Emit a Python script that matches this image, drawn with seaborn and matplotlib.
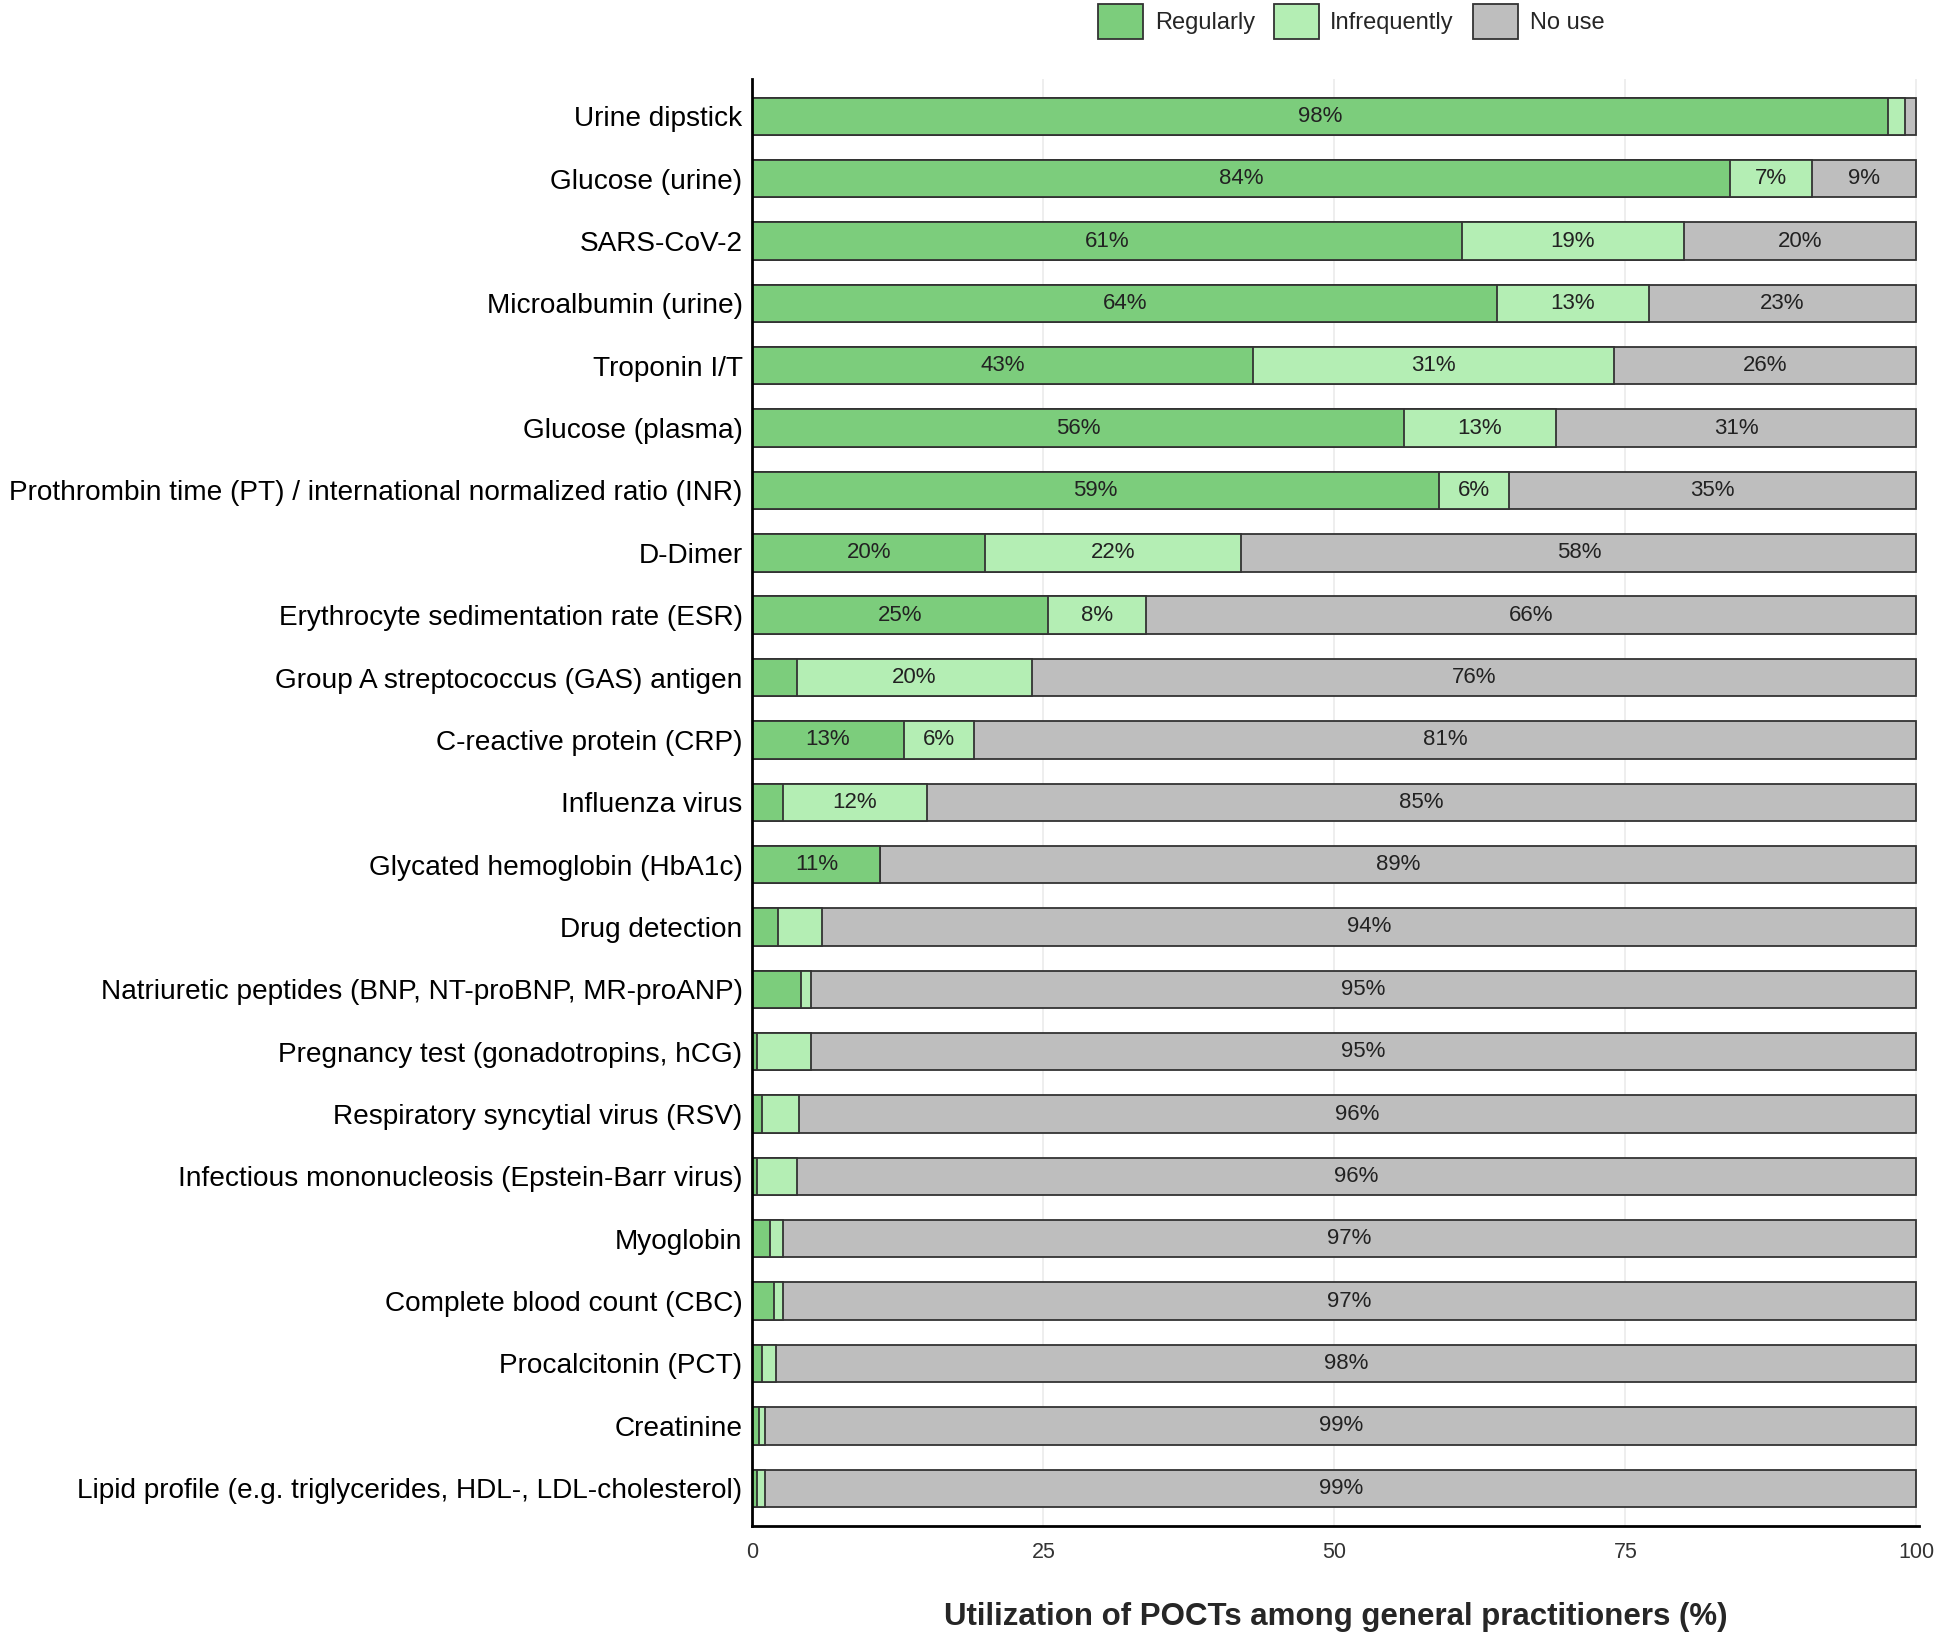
"""
Utilization of POCTs among general practitioners - stacked horizontal bars.
"""

import pandas as pd
import seaborn as sns
import matplotlib.pyplot as plt
from matplotlib.patches import Patch

# dados (%)
testes = [
    "Urine dipstick",
    "Glucose (urine)",
    "SARS-CoV-2",
    "Microalbumin (urine)",
    "Troponin I/T",
    "Glucose (plasma)",
    "Prothrombin time (PT) / international normalized ratio (INR)",
    "D-Dimer",
    "Erythrocyte sedimentation rate (ESR)",
    "Group A streptococcus (GAS) antigen",
    "C-reactive protein (CRP)",
    "Influenza virus",
    "Glycated hemoglobin (HbA1c)",
    "Drug detection",
    "Natriuretic peptides (BNP, NT-proBNP, MR-proANP)",
    "Pregnancy test (gonadotropins, hCG)",
    "Respiratory syncytial virus (RSV)",
    "Infectious mononucleosis (Epstein-Barr virus)",
    "Myoglobin",
    "Complete blood count (CBC)",
    "Procalcitonin (PCT)",
    "Creatinine",
    "Lipid profile (e.g. triglycerides, HDL-, LDL-cholesterol)",
]
regularly = [97.6, 84, 61, 64, 43, 56, 59, 20, 25.4, 3.8, 13, 2.6, 11,
             2.2, 4.2, 0.4, 0.8, 0.4, 1.5, 1.9, 0.8, 0.6, 0.4]
infrequently = [1.4, 7, 19, 13, 31, 13, 6, 22, 8.4, 20.2, 6, 12.4, 0,
                3.8, 0.8, 4.6, 3.2, 3.4, 1.1, 0.7, 1.2, 0.5, 0.7]
no_use = [1, 9, 20, 23, 26, 31, 35, 58, 66.2, 76, 81, 85, 89,
          94, 95, 95, 96, 96.2, 97.4, 97.4, 98, 98.9, 98.9]

categorias = ["Regularly", "Infrequently", "No use"]
cores = ["#7ccd7c", "#b4eeb4", "#bebebe"]
borda = "#333333"


def main():
    df = pd.DataFrame({"teste": testes, "Regularly": regularly,
                       "Infrequently": infrequently, "No use": no_use})
    df["cum_reg"] = df["Regularly"]
    df["cum_inf"] = df["Regularly"] + df["Infrequently"]
    df["cum_all"] = df["cum_inf"] + df["No use"]

    sns.set_theme(style="white")
    plt.rcParams["font.family"] = ["Liberation Sans", "DejaVu Sans"]

    fig = plt.figure(figsize=(19.44, 16.44), dpi=100)
    ax = fig.add_axes([0.387, 0.072, 0.6, 0.88])

    # grade vertical
    for xv in [25, 50, 75, 100]:
        ax.axvline(xv, color="#ebebeb", lw=1.2, zorder=0)

    # barras acumuladas, da maior para a menor
    for col, cor in [("cum_all", cores[2]), ("cum_inf", cores[1]), ("cum_reg", cores[0])]:
        sns.barplot(data=df, x=col, y="teste", order=testes, orient="h",
                    color=cor, width=0.6, edgecolor=borda, linewidth=1.3,
                    saturation=1, ax=ax, zorder=2)

    # rótulos das porcentagens
    for i, row in df.iterrows():
        inicio = 0
        for cat in categorias:
            v = row[cat]
            if v >= 5:
                ax.text(inicio + v / 2, i, f"{v:.0f}%", ha="center", va="center",
                        fontsize=16, color="#222222", zorder=5)
            inicio += v

    ax.set_xlim(0, 100.2)
    ax.set_ylim(len(testes) - 0.4, -0.6)
    ax.set_xticks([0, 25, 50, 75, 100])
    ax.tick_params(axis="x", labelsize=15.5, length=5, width=1.5,
                   pad=7, labelcolor="#333333", color="black")
    ax.tick_params(axis="y", labelsize=20.2, length=5, width=1.5, pad=2,
                   labelcolor="black", color="black")
    ax.set_ylabel("")
    ax.set_xlabel("Utilization of POCTs among general practitioners (%)",
                  fontsize=22.5, fontweight="bold", labelpad=28)

    for lado in ["top", "right"]:
        ax.spines[lado].set_visible(False)
    for lado in ["left", "bottom"]:
        ax.spines[lado].set_color("black")
        ax.spines[lado].set_linewidth(2)

    # legenda no topo
    handles = [Patch(facecolor=c, edgecolor=borda, linewidth=1.3, label=l)
               for c, l in zip(cores, categorias)]
    fig.legend(handles=handles, loc="center", bbox_to_anchor=(0.695, 0.987),
               ncol=3, frameon=False, fontsize=17, handlelength=1.9,
               handleheight=1.9, handletextpad=0.5, columnspacing=0.8)

    fig.savefig("out.png", dpi=100)
    plt.close(fig)
    return 0


if __name__ == "__main__":
    exit(main())
